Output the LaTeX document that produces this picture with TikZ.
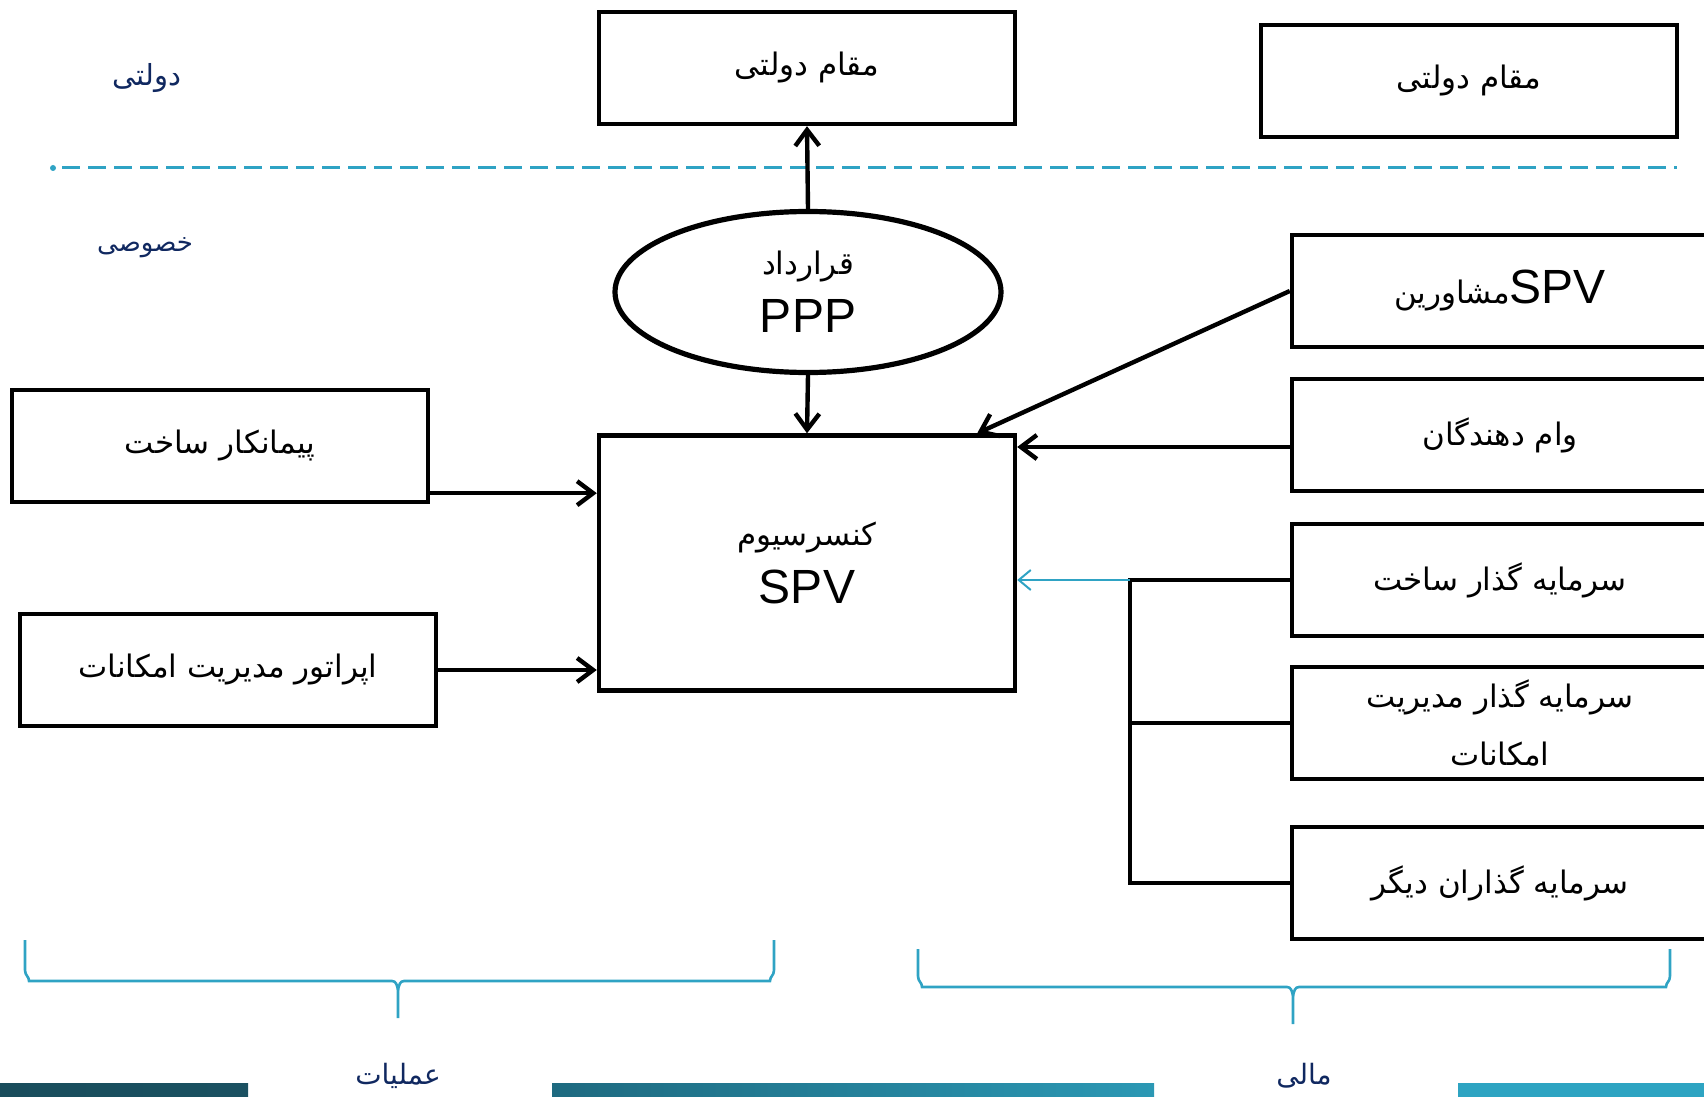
\documentclass[tikz,border=0pt]{standalone}
\usepackage{fontspec}
\setmainfont{Liberation Sans}
\newfontfamily\arabicfont[Script=Arabic]{DejaVu Sans}
\TeXXeTstate=1
\usetikzlibrary{arrows.meta,shapes.geometric}

\definecolor{tealline}{RGB}{47,163,196}
\definecolor{navytext}{RGB}{16,40,96}
\definecolor{bardark}{RGB}{26,77,92}
\definecolor{barmidA}{RGB}{30,106,128}
\definecolor{barmidB}{RGB}{43,152,180}
\definecolor{barlight}{RGB}{46,164,194}

\newcommand{\fatext}[1]{{\arabicfont\beginR #1\endR}}
\newcommand{\bigtext}[1]{{\fontsize{24}{29}\selectfont #1}}

\tikzset{
  box/.style={draw, line width=2.2pt, minimum width=208pt, minimum height=56pt,
    inner sep=0pt, align=center, font=\fontsize{15.5}{29}\selectfont},
  conn/.style={line width=2.2pt, -{Straight Barb[length=8pt,width=12pt]}},
  side/.style={text=navytext, font=\fontsize{13}{16}\selectfont},
  bracket/.style={draw=tealline, line width=1.3pt},
}

\begin{document}
\begin{tikzpicture}[x=0.5pt,y=0.5pt,yscale=-1,xscale=1]
\useasboundingbox (0,0) rectangle (1704,1097);

%Shape: Dashed line
\draw [tealline, line width=1.5pt, dash pattern=on 9pt off 4pt] (62,168) -- (1677,168);
\fill [tealline] (53,168) circle (1.5pt);

% Text Node
\node [side, font=\fontsize{14.5}{16}\selectfont] (govlabel) at (147,78) {\fatext{دولتی}};
% Text Node
\node [side] (privlabel) at (145,248) {\fatext{خصوصی}};

% boxes
\node [box] (gov) at (807,68) {\fatext{مقام دولتی}};
\node [box] (gov2) at (1469,81) {\fatext{مقام دولتی}};
\node [draw, ellipse, line width=2.6pt, minimum width=193pt, minimum height=80.5pt,
  inner sep=0pt, align=center, font=\fontsize{15.5}{29}\selectfont] (ppp) at (808,292)
  {\fatext{قرارداد}\\ \bigtext{PPP}};
\node [box, minimum height=127.5pt] (spv) at (807,563) {\fatext{کنسرسیوم}\\ \bigtext{SPV}};
\node [box] (builder) at (220,446) {\fatext{پیمانکار ساخت}};
\node [box] (operator) at (228,670) {\fatext{اپراتور مدیریت امکانات}};

\node [box] (advisers) at (1500,291) {\fatext{مشاورین}\bigtext{SPV}};
\node [box] (lenders) at (1500,435) {\fatext{وام دهندگان}};
\node [box] (invbuild) at (1500,580) {\fatext{سرمایه گذار ساخت}};
\node [box] (invfm) at (1500,723) {\fatext{سرمایه گذار مدیریت}\\ \fatext{امکانات}};
\node [box] (invother) at (1500,883) {\fatext{سرمایه گذاران دیگر}};

% connectors
\draw [conn] (ppp.north) -- (gov.south);
\draw [conn] (ppp.south) -- (spv.north);
\draw [conn] (advisers.west) -- ([xshift=-20pt]spv.north east);
\coordinate (lendpt) at ([yshift=6pt]lenders.west);
\draw [conn] (lendpt) -- (lendpt -| spv.east);
\coordinate (buildpt) at ([yshift=-5.5pt]builder.south east);
\draw [conn] (buildpt) -- (buildpt -| spv.west);
\draw [conn] (operator.east) -- (operator.east -| spv.west);

\coordinate (fork) at ([xshift=-80pt]invbuild.west);
\draw [line width=2.2pt] (invbuild.west) -- (fork) |- (invother.west);
\draw [line width=2.2pt] (fork |- invfm.west) -- (invfm.west);
\draw [tealline, line width=1pt, -{Straight Barb[length=6pt,width=10pt]}] (fork) -- (fork -| spv.east);

%Shape: Brace left
\draw [bracket] (25,940) -- (25,970) .. controls (25,976) and (29,976) .. (29,981) -- (392,981) .. controls (396,981) and (397,985) .. (398,990) -- (398,1018);
\draw [bracket] (774,940) -- (774,970) .. controls (774,976) and (770,976) .. (770,981) -- (404,981) .. controls (400,981) and (399,985) .. (398,990);
%Shape: Brace right
\draw [bracket] (918,949) -- (918,976) .. controls (918,982) and (922,982) .. (922,987) -- (1287,987) .. controls (1291,987) and (1292,991) .. (1293,996) -- (1293,1024);
\draw [bracket] (1670,949) -- (1670,976) .. controls (1670,982) and (1666,982) .. (1666,987) -- (1299,987) .. controls (1295,987) and (1294,991) .. (1293,996);

%Shape: bottom bars
\fill [left color=bardark, right color=bardark!85!barmidA] (0,1083) rectangle (248,1097);
\fill [left color=barmidA, right color=barmidB] (552,1083) rectangle (1154,1097);
\fill [barlight] (1458,1083) rectangle (1704,1097);

% Text Node
\node [side, font=\fontsize{14}{16}\selectfont] (opslabel) at (398,1076) {\fatext{عملیات}};
% Text Node
\node [side, font=\fontsize{14}{16}\selectfont] (finlabel) at (1304,1076) {\fatext{مالی}};

\end{tikzpicture}
\end{document}
